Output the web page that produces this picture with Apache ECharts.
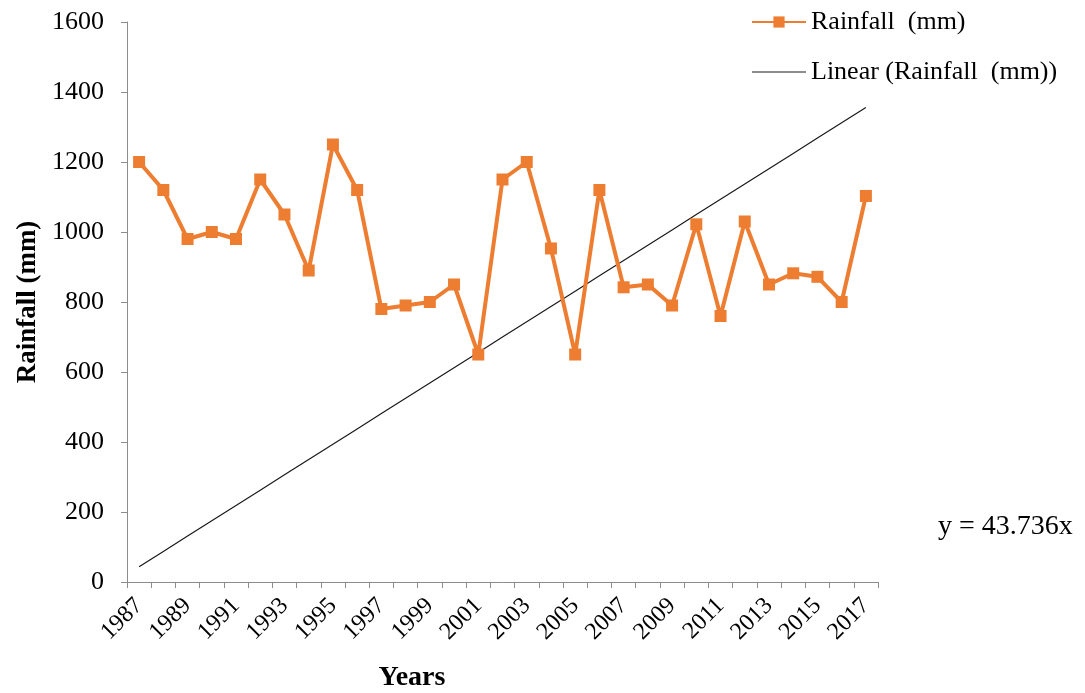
<!DOCTYPE html>
<html>
<head>
<meta charset="utf-8">
<title>Rainfall (mm)</title>
<script src="https://cdn.jsdelivr.net/npm/echarts@6/dist/echarts.min.js"></script>
<style>
  html, body { margin: 0; padding: 0; background: #fff; }
  #chart { width: 1085px; height: 693px; }
</style>
</head>
<body>
<div id="chart"></div>
<script>
// Annual rainfall series
const years = ['1987','1988','1989','1990','1991','1992','1993','1994','1995','1996',
  '1997','1998','1999','2000','2001','2002','2003','2004','2005','2006',
  '2007','2008','2009','2010','2011','2012','2013','2014','2015','2016','2017'];
const rainfall = [1200, 1120, 980, 1000, 980, 1150, 1050, 890, 1250, 1120,
  780, 790, 800, 850, 650, 1150, 1200, 953, 650, 1120,
  842, 850, 790, 1022, 760, 1030, 850, 882, 872, 800, 1103];
const yTicks = { min: 0, max: 1600, step: 200 };
// Linear trend through the origin: y = slope * x, x = 1 .. n
const trendSlope = 43.736;
const trendLabel = 'y = 43.736x';

const trend = years.map((_, i) => +(trendSlope * (i + 1)).toFixed(3));

const serif = '"Liberation Serif", "Times New Roman", serif';
const axisGray = '#8c8c8c';
// plain thin line for the trend legend entry (tiny corner specks keep the box height)
const thinLineIcon = 'path://M0,0 L0.01,0 L0.01,0.01 Z M0,6.4 L54,6.4 L54,7.6 L0,7.6 Z M0,14 L0.01,14 L0.01,13.99 Z';

const chart = echarts.init(document.getElementById('chart'));
chart.setOption({
  animation: false,
  backgroundColor: '#fff',
  grid: { left: 127, right: 207, top: 22, bottom: 111, containLabel: false },
  legend: {
    orient: 'vertical',
    left: 746,
    top: 4,
    itemGap: 24,
    itemWidth: 54,
    itemHeight: 14,
    textStyle: { fontFamily: serif, fontSize: 26, color: '#000' },
    data: [
      { name: 'Rainfall  (mm)' },
      { name: 'Linear (Rainfall  (mm))', icon: thinLineIcon, itemStyle: { color: '#1a1a1a' } }
    ]
  },
  xAxis: {
    type: 'category',
    data: years,
    boundaryGap: true,
    axisLine: { lineStyle: { color: axisGray, width: 1 } },
    axisTick: { show: true, interval: 0, length: 6, lineStyle: { color: axisGray } },
    axisLabel: {
      interval: 1,
      rotate: 45,
      margin: 20,
      fontFamily: serif,
      fontSize: 24,
      color: '#000'
    },
    splitLine: { show: false }
  },
  yAxis: {
    type: 'value',
    min: yTicks.min,
    max: yTicks.max,
    interval: yTicks.step,
    name: 'Rainfall (mm)',
    nameLocation: 'middle',
    nameRotate: 90,
    nameGap: 83,
    nameTextStyle: { fontFamily: serif, fontSize: 27, fontWeight: 'bold', color: '#000' },
    axisLine: { show: true, lineStyle: { color: axisGray, width: 1 } },
    axisTick: { show: true, length: 6, lineStyle: { color: axisGray } },
    axisLabel: {
      margin: 23,
      fontFamily: serif,
      fontSize: 26,
      color: '#000',
      formatter: (v) => String(v)
    },
    splitLine: { show: false }
  },
  series: [
    {
      name: 'Rainfall  (mm)',
      type: 'line',
      data: rainfall,
      symbol: 'rect',
      symbolSize: 12,
      showAllSymbol: true,
      lineStyle: { color: '#ED7D31', width: 4 },
      itemStyle: { color: '#ED7D31' },
      z: 3
    },
    {
      name: 'Linear (Rainfall  (mm))',
      type: 'line',
      data: trend,
      symbol: 'none',
      lineStyle: { color: '#1a1a1a', width: 1.2 },
      itemStyle: { color: '#1a1a1a' },
      z: 2
    }
  ],
  graphic: [
    {
      type: 'text',
      left: 938,
      top: 513,
      style: { text: trendLabel, font: '28px ' + serif, fill: '#000' }
    },
    {
      type: 'text',
      x: 412,
      y: 678,
      style: {
        text: 'Years',
        font: 'bold 28px ' + serif,
        fill: '#000',
        align: 'center',
        verticalAlign: 'middle'
      }
    }
  ]
});
</script>
</body>
</html>
